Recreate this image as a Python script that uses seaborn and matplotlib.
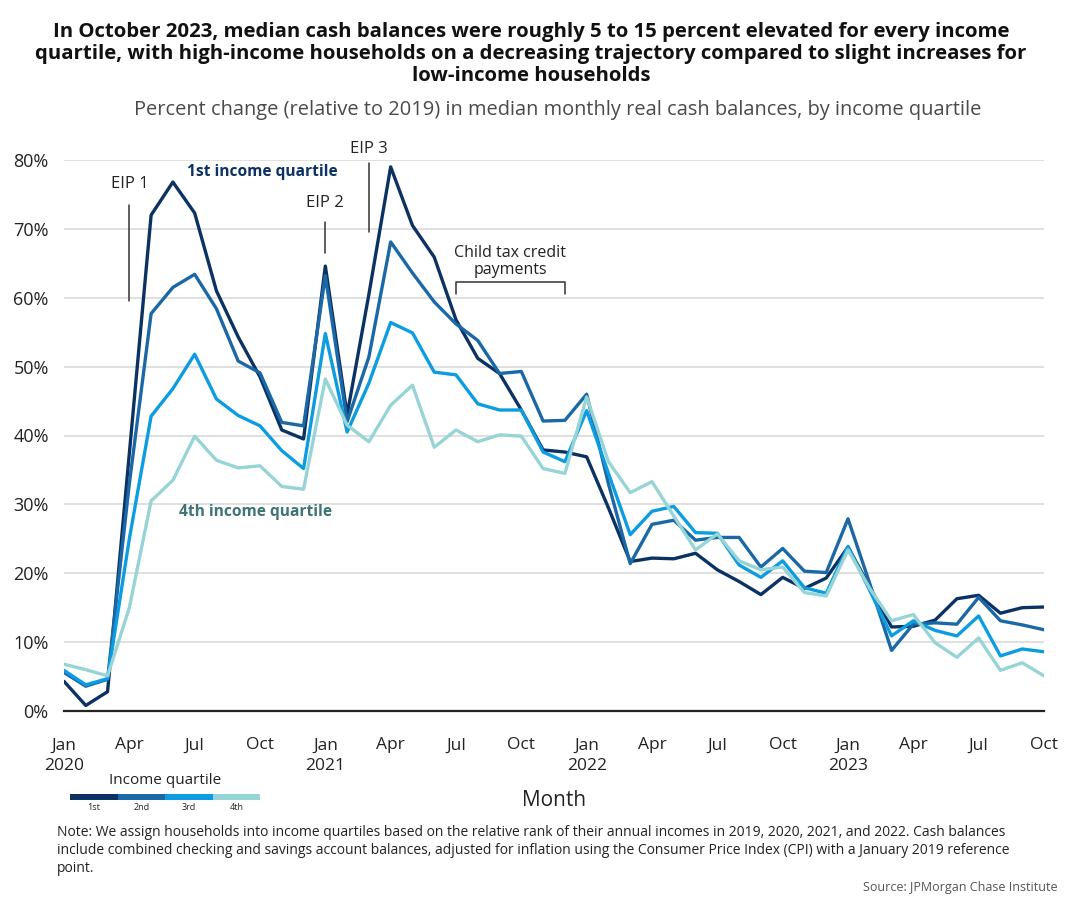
import numpy as np
import pandas as pd
import matplotlib
matplotlib.use("Agg")
import matplotlib.pyplot as plt
import seaborn as sns
from matplotlib.patches import Rectangle

# ---------------- data ----------------
months = pd.date_range("2020-01-01", "2023-10-01", freq="MS")

q1 = [4.3, 0.8, 2.8, 37.4, 72.0, 76.8, 72.3, 61.0, 54.3, 48.5, 40.8, 39.5,
      64.6, 43.0, 60.5, 79.0, 70.5, 65.9, 56.8, 51.2, 49.0, 43.7, 37.9, 37.6,
      36.9, 29.5, 21.7, 22.2, 22.1, 22.9, 20.5, 18.8, 16.9, 19.4, 17.8, 19.3,
      23.8, 18.0, 12.2, 12.3, 13.2, 16.3, 16.8, 14.2, 15.0, 15.1]
q2 = [5.6, 3.6, 4.6, 33.0, 57.7, 61.5, 63.4, 58.4, 50.8, 49.1, 41.9, 41.4,
      63.2, 42.0, 51.4, 68.1, 63.6, 59.4, 56.2, 53.8, 49.0, 49.3, 42.1, 42.2,
      46.0, 33.0, 21.4, 27.1, 27.7, 24.8, 25.2, 25.2, 20.9, 23.6, 20.3, 20.1,
      27.9, 18.5, 8.8, 12.6, 12.8, 12.6, 16.5, 13.1, 12.5, 11.8]
q3 = [5.9, 3.8, 4.7, 25.0, 42.8, 46.8, 51.8, 45.3, 42.9, 41.4, 37.8, 35.2,
      54.8, 40.5, 47.6, 56.4, 54.9, 49.2, 48.8, 44.6, 43.7, 43.7, 37.6, 36.2,
      43.6, 34.5, 25.6, 29.0, 29.7, 25.9, 25.8, 21.2, 19.4, 21.8, 17.9, 17.1,
      23.9, 17.5, 10.9, 13.1, 11.7, 10.9, 13.8, 8.0, 9.0, 8.6]
q4 = [6.8, 6.0, 5.1, 15.0, 30.5, 33.5, 39.9, 36.4, 35.3, 35.6, 32.6, 32.2,
      48.2, 41.5, 39.1, 44.4, 47.3, 38.3, 40.8, 39.1, 40.1, 39.9, 35.2, 34.5,
      45.6, 36.2, 31.7, 33.3, 28.3, 23.4, 25.7, 21.8, 20.5, 20.9, 17.2, 16.7,
      23.4, 17.8, 13.1, 14.0, 9.9, 7.8, 10.6, 5.9, 7.0, 5.1]

quartiles = ["1st", "2nd", "3rd", "4th"]
colors = ["#0b3262", "#1b68a6", "#0b9de0", "#97d4d6"]
y_ticks = [0, 10, 20, 30, 40, 50, 60, 70, 80]
x_tick_labels = ["Jan\n2020", "Apr", "Jul", "Oct", "Jan\n2021", "Apr", "Jul", "Oct",
                 "Jan\n2022", "Apr", "Jul", "Oct", "Jan\n2023", "Apr", "Jul", "Oct"]

idx = np.arange(len(months))
df = pd.concat([
    pd.DataFrame({"m": idx, "value": vals, "quartile": q})
    for q, vals in zip(quartiles, [q1, q2, q3, q4])
])

# ---------------- figure ----------------
sns.set_theme(style="white")
plt.rcParams["font.family"] = ["Open Sans", "DejaVu Sans"]

fig = plt.figure(figsize=(10.70, 9.08), dpi=100)
ax = fig.add_axes([64 / 1070, 1 - 711 / 908, (1044 - 64) / 1070, (711 - 160) / 908])

sns.lineplot(data=df, x="m", y="value", hue="quartile", hue_order=quartiles,
             palette=colors, linewidth=2.4, legend=False, ax=ax, zorder=3)

ax.set_xlim(0, len(months) - 1)
ax.set_ylim(0, 80)
ax.set_yticks(y_ticks)
ax.set_yticklabels([f"{v}%" for v in y_ticks], fontsize=13, color="#222222")
ax.set_xticks(np.arange(0, len(months), 3))
ax.set_xticklabels(x_tick_labels, fontsize=12.5, color="#222222", linespacing=1.4)
ax.grid(axis="y", color="#e0e0e0", linewidth=1.4, zorder=0)
ax.set_axisbelow(True)
for s in ["left", "right", "top"]:
    ax.spines[s].set_visible(False)
ax.spines["bottom"].set_color("#222222")
ax.spines["bottom"].set_linewidth(1.6)
ax.tick_params(axis="x", direction="out", length=8, width=1.6, color="#222222", pad=11)
ax.tick_params(axis="y", length=0, pad=11)
ax.set_xlabel("")
ax.set_ylabel("")

# ---------------- annotations ----------------
line_kw = dict(color="#333333", linewidth=1.1, clip_on=False, zorder=4)
# EIP 1
ax.plot([3, 3], [59.5, 73.5], **line_kw)
ax.text(3, 75.3, "EIP 1", ha="center", va="bottom", fontsize=12, color="#222222")
# EIP 2
ax.plot([12, 12], [66.5, 71.0], **line_kw)
ax.text(12, 72.6, "EIP 2", ha="center", va="bottom", fontsize=12, color="#222222")
# EIP 3
ax.plot([14, 14], [69.5, 79.5], **line_kw)
ax.text(14, 80.5, "EIP 3", ha="center", va="bottom", fontsize=12, color="#222222", clip_on=False)
# Child tax credit bracket
ax.plot([18, 18, 23, 23], [60.5, 62.3, 62.3, 60.5], **line_kw)
ax.text(20.5, 62.9, "Child tax credit\npayments", ha="center", va="bottom",
        fontsize=11.5, color="#222222", linespacing=1.1)

ax.text(9.1, 78.2, "1st income quartile", ha="center", va="center",
        fontsize=11.2, fontweight="bold", color="#0b3262")
ax.text(8.8, 28.9, "4th income quartile", ha="center", va="center",
        fontsize=11.2, fontweight="bold", color="#3e7474")

# ---------------- titles ----------------
fig.text(531 / 1070, 1 - 22 / 908, "In October 2023, median cash balances were roughly 5 to 15 percent elevated for every income\n"
         "quartile, with high-income households on a decreasing trajectory compared to slight increases for\n"
         "low-income households", ha="center", va="top", fontsize=14.7, fontweight="bold",
         color="#111111", linespacing=1.12)
fig.text(558 / 1070, 1 - 110 / 908, "Percent change (relative to 2019) in median monthly real cash balances, by income quartile",
         ha="center", va="center", fontsize=14.4, color="#4a4a4a")

fig.text(554 / 1070, 1 - 800 / 908, "Month", ha="center", va="center", fontsize=15, color="#222222")

# ---------------- legend (colour bar) ----------------
fig.text(165 / 1070, 1 - 780 / 908, "Income quartile", ha="center", va="center", fontsize=11, color="#222222")
seg_w = 47.5
for i, (q, c) in enumerate(zip(quartiles, colors)):
    x0 = 70 + i * seg_w
    fig.patches.append(Rectangle((x0 / 1070, 1 - 800 / 908), seg_w / 1070, 6 / 908,
                                 transform=fig.transFigure, facecolor=c, edgecolor="none"))
    fig.text((x0 + seg_w / 2) / 1070, 1 - 808 / 908, q, ha="center", va="center",
             fontsize=6.5, color="#222222")

# ---------------- footnotes ----------------
fig.text(57 / 1070, 1 - 825 / 908,
         "Note: We assign households into income quartiles based on the relative rank of their annual incomes in 2019, 2020, 2021, and 2022. Cash balances\n"
         "include combined checking and savings account balances, adjusted for inflation using the Consumer Price Index (CPI) with a January 2019 reference\n"
         "point.", ha="left", va="top", fontsize=10, color="#222222", linespacing=1.25)
fig.text(1058 / 1070, 1 - 887 / 908, "Source: JPMorgan Chase Institute", ha="right", va="center",
         fontsize=9, color="#555555")

fig.savefig("out.png", dpi=100)
